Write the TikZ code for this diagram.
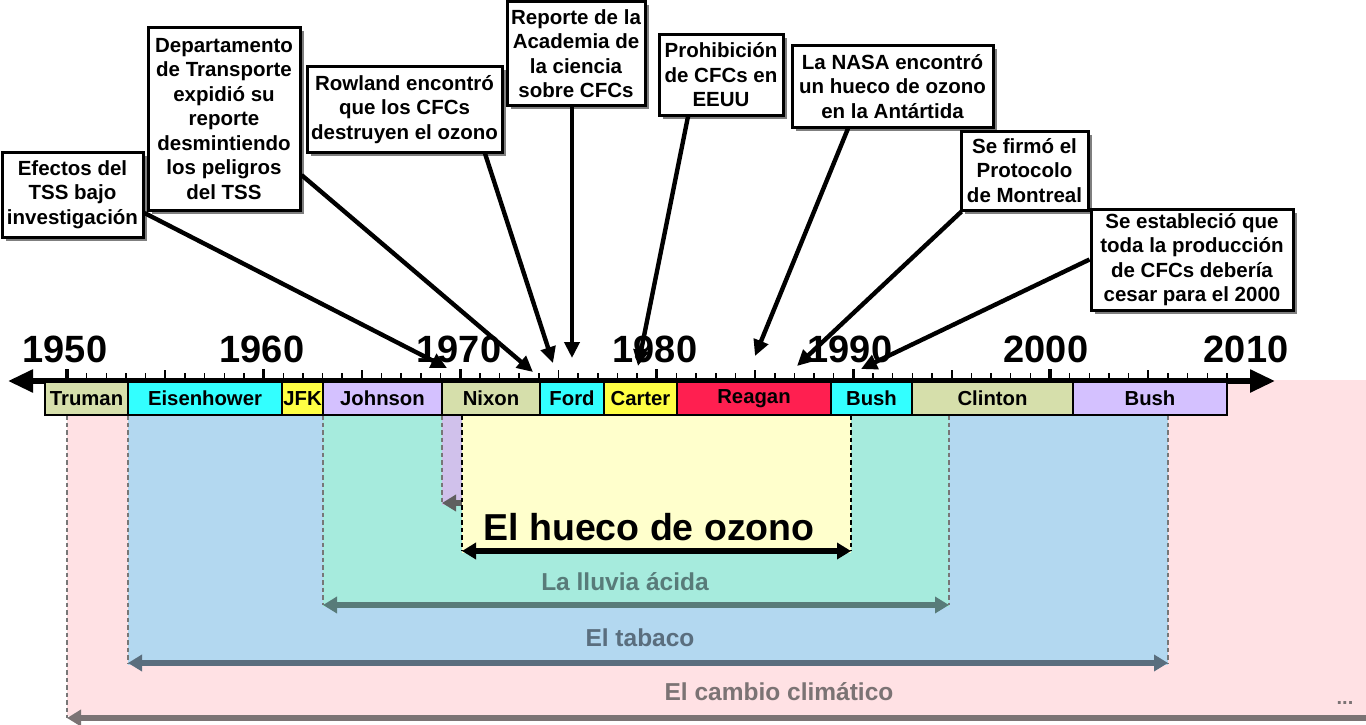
\documentclass[tikz,border=0pt]{standalone}
\usepackage{fontspec}
\setmainfont{Liberation Sans}
\usetikzlibrary{arrows.meta,shadows}
\definecolor{cpink}{HTML}{FFE1E4}
\definecolor{cblue}{HTML}{B3D8F0}
\definecolor{cteal}{HTML}{A6EBDD}
\definecolor{clav}{HTML}{D0C1EB}
\definecolor{cyel}{HTML}{FFFFCC}
\definecolor{tteal}{HTML}{587B79}
\definecolor{tblue}{HTML}{5A6E7E}
\definecolor{tpink}{HTML}{7B7374}
\definecolor{dashgray}{HTML}{777777}
\definecolor{pOlive}{HTML}{D6DFAB}
\definecolor{pCyan}{HTML}{33FFFF}
\definecolor{pYel}{HTML}{FFFF44}
\definecolor{pLav}{HTML}{D4C1FF}
\definecolor{pRed}{HTML}{FF1F50}
\begin{document}
\begin{tikzpicture}[x=1pt,y=-1pt,
  evbox/.style={draw, line width=3pt, fill=white, inner sep=0pt, align=center,
    font=\bfseries\fontsize{20.5}{24.5}\selectfont,
    drop shadow={shadow xshift=3.5pt, shadow yshift=-3.5pt, opacity=0.5, fill=black}},
  conn/.style={line width=4.4pt, -{Triangle[length=16pt,width=15pt]}},
  pres/.style={draw, line width=2.4pt, minimum height=33pt, inner sep=0pt,
    font=\bfseries\fontsize{20.3}{24}\selectfont},
  yearlbl/.style={font=\bfseries\fontsize{38}{40}\selectfont},
  rdash/.style={draw=dashgray, line width=2pt, dash pattern=on 4.5pt off 3pt},
  spanarrow/.style={line width=5.5pt, {Triangle[length=14pt,width=16pt]}-{Triangle[length=14pt,width=16pt]}},
  spanleft/.style={line width=5.5pt, {Triangle[length=14pt,width=16pt]}-},
  regionlbl/.style={font=\bfseries\fontsize{24.5}{28}\selectfont}
]
\useasboundingbox[fill=white] (0,0) rectangle (1366,725);

% ---- regions ----
\fill[cpink] (67,380) rectangle (1366,716);
\draw[rdash] (67,415) -- (67,718);
\coordinate (cl1) at (67,718);
\coordinate (cl2) at (1366,718);
\draw[spanleft, tpink] (cl1) -- (cl2);
\node[regionlbl, text=tpink] (lclim) at (779,692) {El cambio climático};
\node[text=tpink, font=\bfseries\fontsize{20}{22}\selectfont] (ldots) at (1345,703) {...};

\fill[cblue] (128,415) rectangle (1168,665);
\draw[rdash] (128,415) -- (128,663);
\draw[rdash] (1168,415) -- (1168,663);
\coordinate (ta1) at (128,663);
\coordinate (ta2) at (1168,663);
\draw[spanarrow, tblue] (ta1) -- (ta2);
\node[regionlbl, text=tblue] (ltab) at (640,638) {El tabaco};

\fill[cteal] (323,415) rectangle (949,607);
\draw[rdash] (323,415) -- (323,605);
\draw[rdash] (949,415) -- (949,605);
\coordinate (ll1) at (323,605);
\coordinate (ll2) at (949,605);
\draw[spanarrow, tteal] (ll1) -- (ll2);
\node[regionlbl, text=tteal] (llluv) at (625,582) {La lluvia ácida};

\fill[clav] (442,415) rectangle (462,505);
\coordinate (lv1) at (442,503);
\coordinate (lv2) at (470,503);
\draw[spanleft, dashgray!80!black] (lv1) -- (lv2);
\draw[rdash] (442,415) -- (442,503);

\fill[cyel] (462,415) rectangle (851,553);
\draw[black, line width=2pt, dash pattern=on 4.5pt off 3pt] (462,415) -- (462,551);
\draw[black, line width=2pt, dash pattern=on 4.5pt off 3pt] (851,415) -- (851,551);
\coordinate (oz1) at (462,551);
\coordinate (oz2) at (851,551);
\draw[spanarrow, black] (oz1) -- (oz2);
\node[font=\bfseries\fontsize{37.5}{40}\selectfont] (lozono) at (649,527) {El hueco de ozono};

% ---- axis ----
\coordinate (axl) at (8,381);
\coordinate (axr) at (1275,381);
\draw[line width=5.5pt, {Triangle[length=25pt,width=22pt]}-{Triangle[length=25pt,width=22pt]}] (axl) -- (axr);
\foreach \i in {0,...,59}{
  \pgfmathtruncatemacro{\m}{mod(\i,10)}
  \pgfmathtruncatemacro{\f}{mod(\i,5)}
  \ifnum\m=0
    \draw[line width=3.2pt] (67+\i*19.66,381) -- (67+\i*19.66,369);
  \else\ifnum\f=0
    \draw[line width=1.8pt] (67+\i*19.66,381) -- (67+\i*19.66,370);
  \else
    \draw[line width=1.5pt] (67+\i*19.66,381) -- (67+\i*19.66,373);
  \fi\fi
}
\node[yearlbl] (y1950) at (65,349) {1950};
\node[yearlbl] (y1960) at (262,349) {1960};
\node[yearlbl] (y1970) at (459,349) {1970};
\node[yearlbl] (y1980) at (655,349) {1980};
\node[yearlbl] (y1990) at (850,349) {1990};
\node[yearlbl] (y2000) at (1046,349) {2000};
\node[yearlbl] (y2010) at (1246,349) {2010};

% ---- presidents ----
\node[pres, fill=pOlive, minimum width=83pt]  (truman) at (86.5,398.5) {Truman};
\node[pres, fill=pCyan,  minimum width=154pt] (eisen)  at (205,398.5) {Eisenhower};
\node[pres, fill=pYel,   minimum width=41pt]  (jfk)    at (302.5,398.5) {JFK};
\node[pres, fill=pLav,   minimum width=119pt] (johnson) at (382.5,398.5) {Johnson};
\node[pres, fill=pOlive, minimum width=98pt]  (nixon)  at (491,398.5) {Nixon};
\node[pres, fill=pCyan,  minimum width=64pt]  (ford)   at (572,398.5) {Ford};
\node[pres, fill=pYel,   minimum width=73pt]  (carter) at (640.5,398.5) {Carter};
\node[pres, fill=pRed,   minimum width=154pt] (reagan) at (754,398.5) {Reagan};
\node[pres, fill=pCyan,  minimum width=81pt]  (bush1)  at (871.5,398.5) {Bush};
\node[pres, fill=pOlive, minimum width=161pt] (clinton) at (992.5,398.5) {Clinton};
\node[pres, fill=pLav,   minimum width=154pt] (bush2)  at (1150,398.5) {Bush};

% ---- event boxes ----
\node[evbox, minimum width=141pt, minimum height=85pt]  (b1) at (72.5,194.5) {Efectos del\\TSS bajo\\investigación};
\node[evbox, minimum width=152pt, minimum height=182pt] (b2) at (224,119) {Departamento\\de Transporte\\expidió su\\reporte\\desmintiendo\\los peligros\\del TSS};
\node[evbox, minimum width=195pt, minimum height=85pt]  (b3) at (404.5,109.5) {Rowland encontró\\que los CFCs\\destruyen el ozono};
\node[evbox, minimum width=138pt, minimum height=103pt] (b4) at (576,53.5) {Reporte de la\\Academia de\\la ciencia\\sobre CFCs};
\node[evbox, minimum width=124pt, minimum height=80pt]  (b5) at (721,75) {Prohibición\\de CFCs en\\EEUU};
\node[evbox, minimum width=201pt, minimum height=81pt]  (b6) at (892.5,86.5) {La NASA encontró\\un hueco de ozono\\en la Antártida};
\node[evbox, minimum width=127pt, minimum height=79pt]  (b7) at (1024.5,170.5) {Se firmó el\\Protocolo\\de Montreal};
\node[evbox, minimum width=202pt, minimum height=101pt] (b8) at (1192,259.5) {Se estableció que\\toda la producción\\de CFCs debería\\cesar para el 2000};

% ---- connectors ----
\coordinate (t1) at (447,368);
\coordinate (t2) at (533,372);
\coordinate (t3) at (553,363);
\coordinate (t4) at (572,358);
\coordinate (t5) at (638,366);
\coordinate (t6) at (755,356);
\coordinate (t7) at (797,366);
\coordinate (t8) at (861,369);
\draw[conn] ([yshift=-18.5pt]b1.east) -- (t1);
\draw[conn] ([yshift=-56pt]b2.east) -- (t2);
\draw[conn] ([xshift=80.5pt]b3.south) -- (t3);
\draw[conn] ([xshift=-4pt]b4.south) -- (t4);
\draw[conn] ([xshift=-33pt]b5.south) -- (t5);
\draw[conn] ([xshift=-44.5pt]b6.south) -- (t6);
\draw[conn] ([xshift=2pt]b7.south west) -- (t7);
\draw[conn] (b8.west) -- (t8);
\end{tikzpicture}
\end{document}
